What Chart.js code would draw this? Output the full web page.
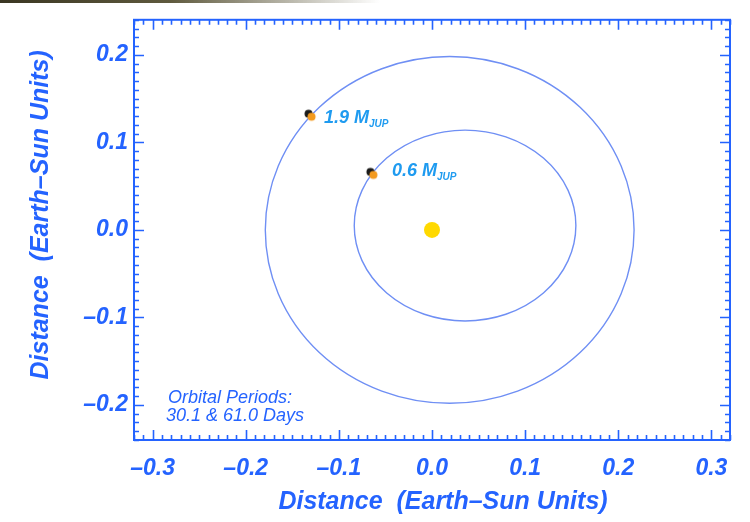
<!DOCTYPE html>
<html>
<head>
<meta charset="utf-8">
<script src="https://cdn.jsdelivr.net/npm/chart.js@4.4.1/dist/chart.umd.min.js"></script>
<style>
  html, body { margin: 0; padding: 0; background: #ffffff; }
  #wrap { position: relative; width: 750px; height: 522px; overflow: hidden; }
  #strip { position: absolute; left: 0; top: 0; width: 380px; height: 3px;
           background: linear-gradient(to right, #3a3622, #5f5a3e 45%, rgba(210,208,196,0)); }
  canvas { display: block; }
</style>
</head>
<body>
<div id="wrap">
  <canvas id="orbitChart" width="750" height="522"></canvas>
  <div id="strip"></div>
</div>
<script>
// Axis ranges and labelled tick values (AU)
const xRange = [-0.32, 0.32];
const yRange = [-0.24, 0.24];
const xTicks = [-0.3, -0.2, -0.1, 0.0, 0.1, 0.2, 0.3];
const yTicks = [-0.2, -0.1, 0.0, 0.1, 0.2];
const minorStep = 0.01;
const axisTitle = 'Distance  (Earth\u2013Sun Units)';

// Orbits: centre and semi-axes (AU)
const orbitCenterX = [0.019, 0.0355];
const orbitCenterY = [0.0, 0.005];
const orbitRadiusX = [0.198, 0.119];
const orbitRadiusY = [0.198, 0.109];

// Planets: current position and mass (Jupiter masses)
const planetX = [-0.131, -0.0645];
const planetY = [0.131, 0.0645];
const planetMass = ['1.9', '0.6'];

// Host star
const starX = [0.0];
const starY = [0.0];

const periodNote = ['Orbital Periods:', '30.1 & 61.0 Days'];

const AXIS_BLUE = '#2463ff';
const LABEL_CYAN = '#1f9bf0';
const ORBIT_BLUE = '#6f8ff4';
const FONT = "'Liberation Sans', Arial, Helvetica, sans-serif";

// Label placement next to each planet (pixels)
const labelStyle = { dx: [14, 20], dy: [8, 3], size: 18, subSize: 10, subDrop: 4 };
// Axis title placement relative to the plot area (pixels)
const titleStyle = { size: 25, xTitleDx: 11, xTitleY: 502, yTitleX: 41, yTitleDy: -15 };

function fmtTick(v) {
  const s = Math.abs(v).toFixed(1);
  return v < -1e-9 ? '\u2013' + s : s;
}

// Planet marker: dark shadow dot behind an orange dot
function planetMarker() {
  const c = document.createElement('canvas');
  c.width = 16; c.height = 16;
  const g = c.getContext('2d');
  g.fillStyle = '#1a1a1a';
  g.beginPath(); g.arc(6.5, 6.5, 4, 0, Math.PI * 2); g.fill();
  g.fillStyle = '#f39a1e';
  g.beginPath(); g.arc(9.5, 9.5, 4, 0, Math.PI * 2); g.fill();
  return c;
}

const orbitPlugin = {
  id: 'orbits',
  beforeDatasetsDraw(chart) {
    const { ctx, chartArea: a, scales: { x, y } } = chart;
    ctx.save();
    ctx.beginPath(); ctx.rect(a.left, a.top, a.right - a.left, a.bottom - a.top); ctx.clip();
    ctx.strokeStyle = ORBIT_BLUE;
    ctx.lineWidth = 1.4;
    for (let i = 0; i < orbitCenterX.length; i++) {
      const cx = x.getPixelForValue(orbitCenterX[i]);
      const cy = y.getPixelForValue(orbitCenterY[i]);
      const rx = Math.abs(x.getPixelForValue(orbitCenterX[i] + orbitRadiusX[i]) - cx);
      const ry = Math.abs(y.getPixelForValue(orbitCenterY[i] + orbitRadiusY[i]) - cy);
      ctx.beginPath();
      ctx.ellipse(cx, cy, rx, ry, 0, 0, Math.PI * 2);
      ctx.stroke();
    }
    ctx.restore();
  }
};

const framePlugin = {
  id: 'frame',
  afterDraw(chart) {
    const { ctx, chartArea: a, scales: { x, y } } = chart;
    ctx.save();
    ctx.strokeStyle = AXIS_BLUE;
    ctx.lineWidth = 2;
    ctx.strokeRect(a.left, a.top, a.right - a.left, a.bottom - a.top);
    ctx.lineWidth = 1.6;
    const isMajor = v => Math.abs(v * 10 - Math.round(v * 10)) < 1e-6;
    ctx.beginPath();
    for (let k = Math.ceil(xRange[0] / minorStep - 1e-6); k <= Math.floor(xRange[1] / minorStep + 1e-6); k++) {
      const v = k * minorStep;
      const px = Math.round(x.getPixelForValue(v)) + 0.5;
      const len = isMajor(v) ? 10 : 5;
      ctx.moveTo(px, a.bottom); ctx.lineTo(px, a.bottom - len);
      ctx.moveTo(px, a.top); ctx.lineTo(px, a.top + len);
    }
    for (let k = Math.ceil(yRange[0] / minorStep - 1e-6); k <= Math.floor(yRange[1] / minorStep + 1e-6); k++) {
      const v = k * minorStep;
      const py = Math.round(y.getPixelForValue(v)) + 0.5;
      const len = isMajor(v) ? 10 : 5;
      ctx.moveTo(a.left, py); ctx.lineTo(a.left + len, py);
      ctx.moveTo(a.right, py); ctx.lineTo(a.right - len, py);
    }
    ctx.stroke();

    // axis titles
    ctx.fillStyle = AXIS_BLUE;
    ctx.font = `italic bold ${titleStyle.size}px ${FONT}`;
    ctx.textAlign = 'center';
    ctx.textBaseline = 'middle';
    ctx.fillText(axisTitle, (a.left + a.right) / 2 + titleStyle.xTitleDx, titleStyle.xTitleY);
    ctx.translate(titleStyle.yTitleX, (a.top + a.bottom) / 2 + titleStyle.yTitleDy);
    ctx.rotate(-Math.PI / 2);
    ctx.fillText(axisTitle, 0, 0);
    ctx.restore();
  }
};

const textPlugin = {
  id: 'annotations',
  afterDatasetsDraw(chart) {
    const { ctx, chartArea: a } = chart;
    const meta = chart.getDatasetMeta(1);
    ctx.save();
    ctx.fillStyle = LABEL_CYAN;
    ctx.textBaseline = 'alphabetic';
    ctx.textAlign = 'left';
    meta.data.forEach((pt, i) => {
      const bx = pt.x + labelStyle.dx[i];
      const by = pt.y + labelStyle.dy[i];
      ctx.font = `italic bold ${labelStyle.size}px ${FONT}`;
      const main = planetMass[i] + ' M';
      ctx.fillText(main, bx, by);
      const w = ctx.measureText(main).width;
      ctx.font = `italic bold ${labelStyle.subSize}px ${FONT}`;
      ctx.fillText('JUP', bx + w, by + labelStyle.subDrop);
    });
    // period note in the lower-left corner of the plot
    ctx.fillStyle = AXIS_BLUE;
    ctx.font = `italic 18px ${FONT}`;
    ctx.fillText(periodNote[0], a.left + 34, a.bottom - 37);
    ctx.fillText(periodNote[1], a.left + 32, a.bottom - 19);
    ctx.restore();
  }
};

const tickFont = { family: FONT, size: 23, weight: 'bold', style: 'italic', lineHeight: 1.2 };

new Chart(document.getElementById('orbitChart'), {
  type: 'scatter',
  data: {
    datasets: [
      {
        label: 'Star',
        data: starX.map((v, i) => ({ x: v, y: starY[i] })),
        pointRadius: 8,
        pointBackgroundColor: '#ffd900',
        pointBorderWidth: 0,
        pointBorderColor: 'rgba(0,0,0,0)'
      },
      {
        label: 'Planets',
        data: planetX.map((v, i) => ({ x: v, y: planetY[i] })),
        pointStyle: planetMarker(),
        pointRadius: 8
      }
    ]
  },
  options: {
    responsive: false,
    animation: false,
    devicePixelRatio: 1,
    layout: { padding: { top: 15, right: 20, bottom: 0, left: 0 } },
    plugins: { legend: { display: false }, tooltip: { enabled: false } },
    scales: {
      x: {
        type: 'linear',
        min: xRange[0], max: xRange[1],
        afterBuildTicks: s => { s.ticks = xTicks.map(v => ({ value: v })); },
        afterFit: s => { s.height = 82; },
        grid: { display: false, drawTicks: false },
        border: { display: false },
        ticks: { autoSkip: false, maxRotation: 0, padding: 15, color: AXIS_BLUE, font: tickFont, callback: v => fmtTick(v) },
        title: { display: false }
      },
      y: {
        type: 'linear',
        min: yRange[0], max: yRange[1],
        afterBuildTicks: s => { s.ticks = yTicks.map(v => ({ value: v })); },
        afterFit: s => { s.width = 134; },
        grid: { display: false, drawTicks: false },
        border: { display: false },
        ticks: { autoSkip: false, padding: 6, color: AXIS_BLUE, font: tickFont, callback: v => fmtTick(v) },
        title: { display: false }
      }
    }
  },
  plugins: [orbitPlugin, textPlugin, framePlugin]
});
</script>
</body>
</html>
